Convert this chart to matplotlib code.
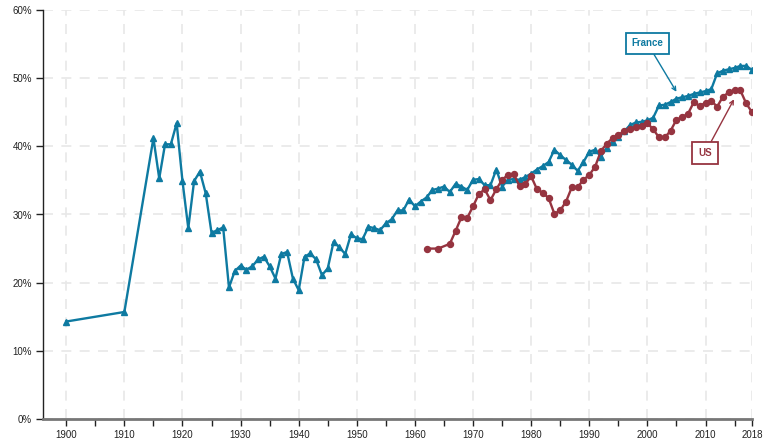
import matplotlib.pyplot as plt
import matplotlib.ticker as mticker

plt.rcParams['font.family'] = ['Liberation Sans', 'DejaVu Sans']

france_years = [1900, 1910] + list(range(1915, 2019))
france_share = [
    14.3, 15.7,
    41.2, 35.3, 40.3, 40.3, 43.4, 34.9, 28.0, 34.9, 36.3, 33.1,   # 1915-1924
    27.3, 27.7, 28.1, 19.3, 21.7, 22.5, 21.9, 22.4, 23.4, 23.8,   # 1925-1934
    22.4, 20.6, 24.2, 24.5, 20.6, 18.9, 23.8, 24.3, 23.4, 21.1,   # 1935-1944
    22.1, 26.0, 25.2, 24.2, 27.1, 26.5, 26.4, 28.2, 28.0, 27.7,   # 1945-1954
    28.7, 29.3, 30.6, 30.6, 32.2, 31.2, 31.9, 32.5, 33.6, 33.8,   # 1955-1964
    34.1, 33.3, 34.5, 34.1, 33.6, 35.1, 35.2, 34.3, 34.3, 36.6,   # 1965-1974
    34.1, 35.1, 35.2, 35.1, 35.5, 36.0, 36.6, 37.1, 37.7, 39.5,   # 1975-1984
    38.7, 38.0, 37.3, 36.4, 37.7, 39.2, 39.5, 38.5, 39.8, 40.7,   # 1985-1994
    41.3, 42.2, 43.1, 43.5, 43.6, 43.8, 44.2, 46.0, 46.1, 46.5,   # 1995-2004
    47.0, 47.2, 47.4, 47.7, 47.9, 48.1, 48.4, 50.7, 51.1, 51.3,   # 2005-2014
    51.5, 51.8, 51.8, 51.2,                                       # 2015-2018
]

us_years = [1962, 1964, 1966] + list(range(1967, 2019))
us_share = [
    25.0, 25.0, 25.7,
    27.6, 29.6, 29.5, 31.2, 33.0, 33.7, 32.1, 33.7, 35.1, 35.8,   # 1967-1976
    35.9, 34.2, 34.5, 35.6, 33.7, 33.2, 32.4, 30.1, 30.6, 31.9,   # 1977-1986
    34.0, 34.0, 35.1, 35.8, 37.0, 39.3, 40.4, 41.2, 41.7, 42.2,   # 1987-1996
    42.5, 42.8, 43.0, 43.4, 42.5, 41.3, 41.3, 42.3, 43.9, 44.3,   # 1997-2006
    44.8, 46.5, 45.9, 46.4, 46.7, 45.8, 47.3, 47.9, 48.3, 48.2,   # 2007-2016
    46.3, 45.0,                                                   # 2017-2018
]

x_labels = list(range(1900, 2011, 10)) + [2018]

blue = '#0e7aa1'
red = '#963440'

fig = plt.figure(figsize=(7.65, 4.44), dpi=100)
ax = fig.add_axes([43 / 765, 1 - 419 / 444, (752 - 43) / 765, (419 - 10) / 444])

ax.plot(france_years, france_share, color=blue, lw=1.7, marker='^', ms=4.5,
        zorder=3)
ax.plot(us_years, us_share, color=red, lw=1.7, marker='o', ms=4.3, zorder=3)

ax.set_xlim(1896, 2018)
ax.set_ylim(0, 60)
ax.xaxis.set_major_locator(mticker.FixedLocator(x_labels))
ax.xaxis.set_minor_locator(mticker.FixedLocator(list(range(1905, 2016, 10))))
ax.yaxis.set_major_locator(mticker.MultipleLocator(10))
ax.yaxis.set_major_formatter(mticker.FuncFormatter(lambda v, p: f'{v:.0f}%'))

ax.grid(True, which='major', color='#e8e8e8', ls=(0, (6, 5)), lw=1.2, zorder=0)
for s in ['top', 'right']:
    ax.spines[s].set_visible(False)
ax.spines['left'].set_color('#222222')
ax.spines['left'].set_linewidth(1.0)
ax.spines['bottom'].set_color('#777777')
ax.spines['bottom'].set_linewidth(2.0)
ax.tick_params(which='both', labelsize=7, colors='#222222', length=5,
               width=1.0, pad=3)

ax.annotate('France', xy=(2005.0, 48.0), xytext=(2000.0, 55.1),
            color=blue, fontsize=7, fontweight='bold', ha='center',
            va='center', zorder=5,
            bbox=dict(boxstyle='square,pad=0.55', fc='white', ec=blue, lw=1.3),
            arrowprops=dict(arrowstyle='->', color=blue, lw=1.0,
                            shrinkA=0, shrinkB=0))
ax.annotate('US', xy=(2014.9, 46.9), xytext=(2009.9, 39.0),
            color=red, fontsize=7, fontweight='bold', ha='center',
            va='center', zorder=5,
            bbox=dict(boxstyle='square,pad=0.6', fc='white', ec=red, lw=1.3),
            arrowprops=dict(arrowstyle='->', color=red, lw=1.0,
                            shrinkA=0, shrinkB=0))

fig.savefig('out.png', dpi=100)
